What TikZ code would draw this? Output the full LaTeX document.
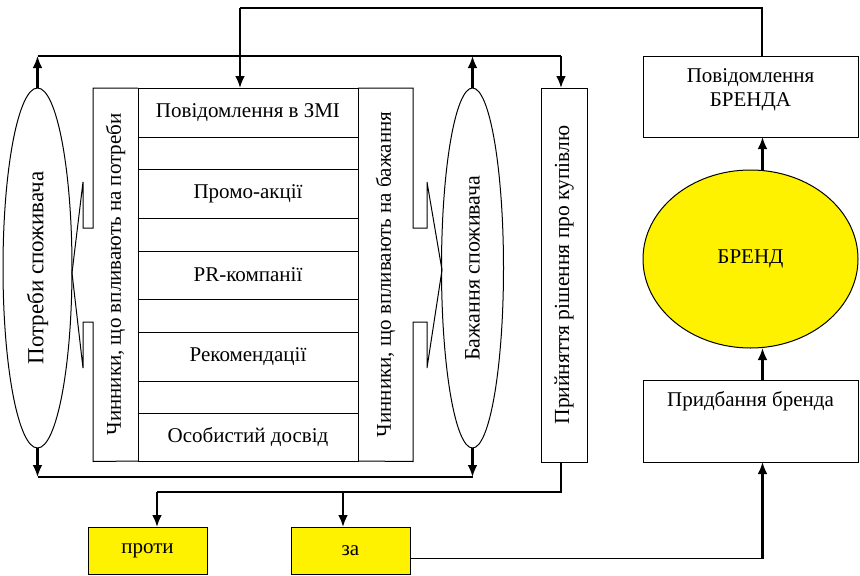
\documentclass[tikz,border=0pt]{standalone}
\usepackage{fontspec}
\setmainfont{Liberation Serif}
\usepackage{graphicx}
\usetikzlibrary{arrows.meta,shapes.geometric,calc}
\newcommand\fs{\fontsize{21pt}{24pt}\selectfont}
\newcommand\fv{\fontsize{22pt}{24pt}\selectfont}
\newcommand\fw{\fontsize{23pt}{24pt}\selectfont}
\begin{document}
\begin{tikzpicture}[x=1pt,y=-1pt,
  every node/.style={inner sep=0pt,outer sep=0pt,font=\fs},
  frame/.style={draw=black,line width=1pt},
  rowbox/.style={frame,rectangle,minimum width=220pt},
  thinline/.style={draw=black,line width=1.1pt},
  arr/.style={draw=black,line width=2.6pt,-{Latex[length=12pt,width=10pt]}},
  yellowbox/.style={frame,fill=yellow,minimum width=119pt,minimum height=47pt}]
\useasboundingbox (0,0) rectangle (860,576);

% central column rows
\node[rowbox,minimum height=49pt] (r1) at (248,112.5) {Повідомлення в ЗМІ};
\node[rowbox,minimum height=32pt] (e1) at (248,153) {};
\node[rowbox,minimum height=49pt] (r2) at (248,193.5) {Промо-акції};
\node[rowbox,minimum height=33pt] (e2) at (248,234.5) {};
\node[rowbox,minimum height=48pt] (r3) at (248,275) {PR-компанії};
\node[rowbox,minimum height=33pt] (e3) at (248,315.5) {};
\node[rowbox,minimum height=49pt] (r4) at (248,356.5) {Рекомендації};
\node[rowbox,minimum height=32pt] (e4) at (248,397) {};
\node[rowbox,minimum height=48pt] (r5) at (248,437) {Особистий досвід};

% side columns (callouts)
\node[minimum width=45pt,minimum height=373pt] (lcol) at (115.5,274.5) {\rotatebox{90}{Чинники, що впливають на потреби}};
\draw[frame] (r1.north west) -- (93,88) -- (93,228) -- (83,228) -- (83,182) -- (72,273) -- (83,368) -- (83,322) -- (93,322) -- (93,461.5) -- (r5.south west);
\node[minimum width=55pt,minimum height=373pt] (rcol) at (385.5,274.5) {\rotatebox{90}{Чинники, що впливають на бажання}};
\draw[frame] (r1.north east) -- (413,88) -- (413,228) -- (427,228) -- (427,182) -- (442,270) -- (427,368) -- (427,322) -- (413,322) -- (413,461.5) -- (r5.south east);

% ellipses
\node[frame,ellipse,minimum width=69pt,minimum height=360pt,font=\fw] (potr) at (37.5,268) {\rotatebox{90}{Потреби споживача}};
\node[frame,ellipse,minimum width=62pt,minimum height=360pt,font=\fv] (bazh) at (472.5,268) {\rotatebox{90}{Бажання споживача}};

% decision box
\node[frame,minimum width=46pt,minimum height=374pt,font=\fontsize{21.5pt}{24pt}\selectfont] (pryin) at (564,275) {\rotatebox{90}{Прийняття рішення про купівлю}};

% right side
\node[frame,minimum width=215pt,minimum height=81pt] (povbr) at (750.5,96.5) {};
\node[align=center] (povbrt) at ([yshift=7pt]povbr.center) {Повідомлення\\БРЕНДА};
\node[frame,ellipse,fill=yellow,minimum width=215pt,minimum height=178pt] (brend) at (750.5,259) {\raisebox{-5pt}{БРЕНД}};
\node[frame,minimum width=215pt,minimum height=82pt] (prydb) at (750.5,421) {};
\node (prydbt) at ([yshift=20pt]prydb.center) {Придбання бренда};

% bottom yellow boxes
\node[yellowbox] (proty) at (147.5,550.5) {проти};
\node[yellowbox] (za) at (350.5,550.5) {за};

% top connector
\coordinate (topL) at (240,8);
\draw[thinline] ([xshift=11.5pt]povbr.north) |- (topL);
\draw[arr] (topL) -- (topL |- r1.north);

% upper loop
\coordinate (lineTop) at (0,56);
\coordinate (pryinIn) at ([xshift=-3pt]pryin.north);
\draw[thinline] (potr.north |- lineTop) -- (pryinIn |- lineTop);
\draw[arr] (potr.north) -- (potr.north |- lineTop);
\draw[arr] (bazh.north) -- (bazh.north |- lineTop);
\draw[arr] (pryinIn |- lineTop) -- (pryinIn);

% lower loop
\coordinate (lineBot) at (0,477);
\draw[thinline] (potr.south |- lineBot) -- (bazh.south |- lineBot);
\draw[arr] (potr.south) -- (potr.south |- lineBot);
\draw[arr] (bazh.south) -- (bazh.south |- lineBot);

% decision branches
\coordinate (lineDec) at (0,492);
\coordinate (protyIn) at ([xshift=9.5pt]proty.north);
\coordinate (zaIn) at ([xshift=-7.5pt]za.north);
\draw[thinline] ([xshift=-3pt]pryin.south) |- (protyIn |- lineDec);
\draw[arr] (protyIn |- lineDec) -- (protyIn);
\draw[arr] (zaIn |- lineDec) -- (zaIn);

% за -> purchase -> brand -> message
\coordinate (zc) at ([yshift=-8pt]za.east);
\coordinate (prydbIn) at ([xshift=12pt]prydb.south);
\draw[thinline] (zc) -- (zc -| prydbIn);
\draw[arr] (zc -| prydbIn) -- (prydbIn);
\draw[arr] ([xshift=12pt]prydb.north) -- ([xshift=12pt]brend.south);
\draw[arr] ([xshift=12pt]brend.north) -- ([xshift=12pt]povbr.south);
\end{tikzpicture}
\end{document}
